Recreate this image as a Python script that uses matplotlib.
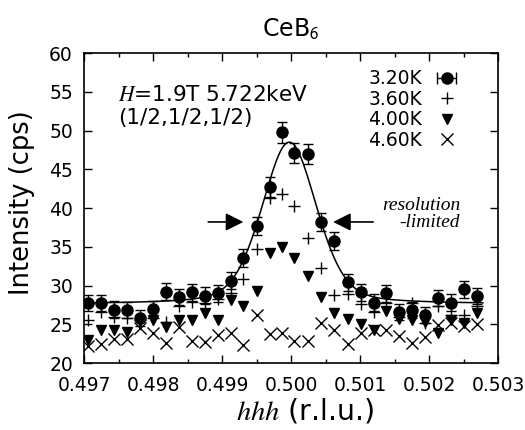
import matplotlib
matplotlib.use('Agg')
import matplotlib.pyplot as plt
import numpy as np

plt.rcParams['font.family'] = ['DejaVu Sans']
plt.rcParams['mathtext.fontset'] = 'stix'

# scan positions (hhh, r.l.u.)
hhh = [0.49706, 0.49725, 0.49744, 0.49762, 0.49781, 0.49800, 0.49819, 0.49837,
       0.49856, 0.49875, 0.49894, 0.49913, 0.49931, 0.49950, 0.49969, 0.49987,
       0.50005, 0.50025, 0.50044, 0.50063, 0.50082, 0.50101, 0.50120, 0.50138,
       0.50157, 0.50176, 0.50194, 0.50213, 0.50232, 0.50251, 0.50270]

# intensities (cps)
i_320 = [27.7, 27.7, 26.9, 26.8, 25.8, 27.0, 29.2, 28.5, 29.1, 28.7, 29.0,
         30.6, 33.5, 37.7, 42.7, 49.8, 47.1, 47.0, 38.2, 35.7, 30.4, 29.1,
         27.8, 29.0, 26.6, 26.8, 26.2, 28.4, 27.8, 29.5, 28.6]
err_320 = [1.05, 1.05, 1.05, 1.05, 1.0, 1.05, 1.1, 1.05, 1.1, 1.05, 1.1,
           1.1, 1.15, 1.2, 1.25, 1.35, 1.3, 1.3, 1.2, 1.15, 1.1, 1.1,
           1.05, 1.1, 1.05, 1.05, 1.05, 1.05, 1.05, 1.1, 1.05]
i_360 = [25.5, 26.6, 26.0, 25.8, 25.6, 25.8, 25.3, 27.3, 27.9, 27.8, 28.3,
         29.0, 30.9, 34.7, 41.3, 41.8, 40.3, 36.1, 32.3, 28.8, 28.9, 27.6,
         26.6, 27.7, 26.0, 27.8, 25.1, 27.3, 26.2, 26.2, 27.3]
i_400 = [23.0, 24.3, 24.3, 24.0, 25.4, 25.5, 24.6, 25.6, 25.6, 26.4, 25.5,
         28.1, 27.3, 29.3, 34.2, 35.0, 33.6, 31.2, 28.5, 26.4, 25.7, 25.0,
         24.3, 26.7, 25.7, 25.5, 25.3, 23.9, 25.5, 25.1, 26.4]
i_460 = [22.2, 22.5, 23.1, 23.1, 24.5, 23.9, 22.6, 24.7, 22.9, 22.7, 23.6,
         23.9, 22.3, 26.2, 23.8, 23.9, 22.8, 22.8, 25.2, 24.3, 22.5, 23.9,
         24.3, 24.3, 23.5, 22.6, 23.3, 24.9, 25.1, 24.8, 25.0]

# fit to the 3.20K scan (pseudo-Voigt on flat background)
fit_bg = 27.6
fit_amp = 20.9
fit_x0 = 0.499975
fit_hwhm = 0.000468
fit_eta = 0.3

xf = np.linspace(0.497, 0.50278, 400)
u = (xf - fit_x0) / fit_hwhm
fit_curve = fit_bg + fit_amp * ((1 - fit_eta) * np.exp(-np.log(2) * u**2)
                                + fit_eta / (1 + u**2))

fig = plt.figure(figsize=(5.25, 4.3), dpi=100)
ax = fig.add_axes([0.16, 0.1558, 0.7886, 0.7209])

ax.plot(xf, fit_curve, color='k', lw=1.1, zorder=2)
ax.errorbar(hhh, i_320, yerr=err_320, fmt='o', color='k', ms=8,
            capsize=3.5, elinewidth=1, capthick=1, zorder=4)
ax.plot(hhh, i_360, '+', color='k', ms=9, mew=1, zorder=3)
ax.plot(hhh, i_400, 'v', color='k', ms=7.5, zorder=3)
ax.plot(hhh, i_460, 'x', color='k', ms=8, mew=1, zorder=3)

# legend proxies (gnuplot style: text first, horizontal bar for 3.20K)
h320 = ax.errorbar([np.nan], [np.nan], xerr=[[1], [1]], fmt='o', color='k',
                   ms=8, capsize=4, elinewidth=1, capthick=1)
h360, = ax.plot([], [], '+', color='k', ms=9, mew=1)
h400, = ax.plot([], [], 'v', color='k', ms=7.5)
h460, = ax.plot([], [], 'x', color='k', ms=8, mew=1)
ax.legend([h320, h360, h400, h460], ['3.20K', '3.60K', '4.00K', '4.60K'],
          loc='upper right', bbox_to_anchor=(0.93, 0.972), frameon=False,
          markerfirst=False, fontsize=13.5, handlelength=1.6,
          handletextpad=0.5, labelspacing=0.08, borderaxespad=0.0)

ax.text(0.49749, 53.8, '$H$=1.9T 5.722keV', fontsize=15.5)
ax.text(0.49749, 50.8, '(1/2,1/2,1/2)', fontsize=15.5)

arrow_style = '-|>,head_length=0.9,head_width=0.45'
ax.annotate('', xy=(0.49931, 38.2), xytext=(0.49880, 38.2),
            arrowprops=dict(arrowstyle=arrow_style, mutation_scale=12,
                            color='k', lw=1.2, shrinkA=0, shrinkB=0))
ax.annotate('', xy=(0.50061, 38.2), xytext=(0.50119, 38.2),
            arrowprops=dict(arrowstyle=arrow_style, mutation_scale=12,
                            color='k', lw=1.2, shrinkA=0, shrinkB=0))
ax.text(0.50245, 37.6, 'resolution\n-limited', fontsize=14, style='italic',
        family='Liberation Serif', ha='right', multialignment='right',
        linespacing=1.0)

ax.set_xlim(0.497, 0.503)
ax.set_ylim(20, 60)
ax.set_xticks([0.497, 0.498, 0.499, 0.500, 0.501, 0.502, 0.503])
ax.set_xticklabels(['0.497', '0.498', '0.499', '0.500', '0.501', '0.502', '0.503'])
ax.set_xticks(np.arange(0.4975, 0.503, 0.001), minor=True)
ax.set_yticks(range(20, 61, 5))
ax.tick_params(which='both', direction='in', top=True, right=True,
               labelsize=13.5, width=1)
ax.tick_params(which='major', length=6)
ax.tick_params(which='minor', length=3)
ax.tick_params(axis='y', pad=8)
ax.tick_params(axis='x', pad=9)
for s in ax.spines.values():
    s.set_linewidth(1.2)

ax.set_title('CeB$_\\mathsf{6}$', fontsize=17, pad=12)
ax.set_ylabel('Intensity (cps)', fontsize=18.5, labelpad=3)
ax.yaxis.set_label_coords(-0.118, 0.516)
ax.set_xlabel('$hhh$ (r.l.u.)', fontsize=20.5, labelpad=3)
ax.xaxis.set_label_coords(0.534, -0.108)

fig.savefig('out.png', dpi=100)
